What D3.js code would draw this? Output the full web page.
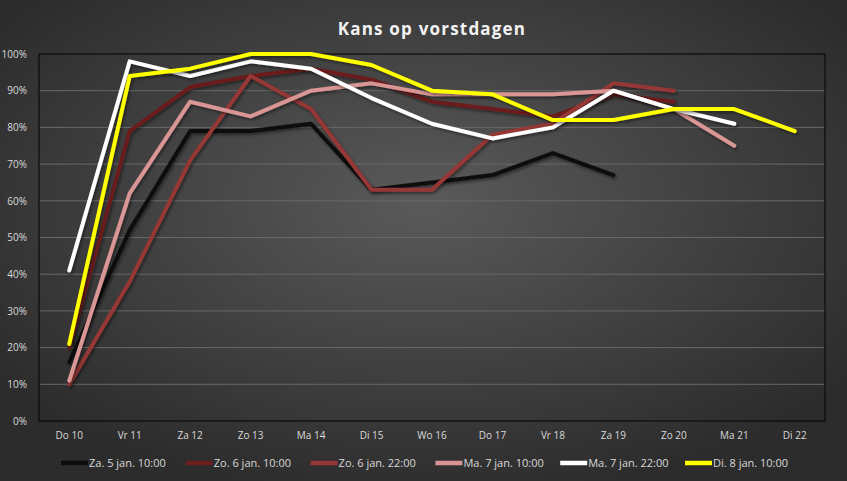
<!DOCTYPE html>
<html>
<head>
<meta charset="utf-8">
<script src="https://cdn.jsdelivr.net/npm/d3@7"></script>
<style>
  html, body { margin: 0; padding: 0; background: #333; }
  svg { display: block; }
  .tick text { fill: #d9d9d9; font-family: "Open Sans", sans-serif; font-size: 10px; }
</style>
</head>
<body>
<svg width="847" height="481"></svg>
<script>
const days = ['Do 10', 'Vr 11', 'Za 12', 'Zo 13', 'Ma 14', 'Di 15', 'Wo 16',
              'Do 17', 'Vr 18', 'Za 19', 'Zo 20', 'Ma 21', 'Di 22'];

const runs = ['Za. 5 jan. 10:00', 'Zo. 6 jan. 10:00', 'Zo. 6 jan. 22:00',
              'Ma. 7 jan. 10:00', 'Ma. 7 jan. 22:00', 'Di. 8 jan. 10:00'];

// kans in %, null = geen verwachting
const za5 = [16, 52, 79, 79, 81, 63, 65, 67, 73, 67, null, null, null];
const zo6a = [20, 79, 91, 94, 96, 93, 87, 85, 83, 89, 87, null, null];
const zo6b = [10, 38, 71, 94, 85, 63, 63, 78, 81, 92, 90, null, null];
const ma7a = [11, 62, 87, 83, 90, 92, 89, 89, 89, 90, 85, 75, null];
const ma7b = [41, 98, 94, 98, 96, 88, 81, 77, 80, 90, 85, 81, null];
const di8 = [21, 94, 96, 100, 100, 97, 90, 89, 82, 82, 85, 85, 79];

const yTicks = [0, 10, 20, 30, 40, 50, 60, 70, 80, 90, 100];

const colors = ['#0d0d0d', '#6a1e1e', '#953735', '#d99694', '#ffffff', '#ffff00'];

const svg = d3.select('svg');
const width = +svg.attr('width');
const height = +svg.attr('height');
const margin = { top: 54, right: 22, bottom: 60, left: 39 };
const innerWidth = width - margin.left - margin.right;
const innerHeight = height - margin.top - margin.bottom;

const defs = svg.append('defs');
const grad = defs.append('radialGradient')
    .attr('id', 'bg')
    .attr('cx', '50%').attr('cy', '42%').attr('r', '62%');
grad.append('stop').attr('offset', '0%').attr('stop-color', '#5a5a5a');
grad.append('stop').attr('offset', '100%').attr('stop-color', '#2c2c2c');

const shadow = defs.append('filter').attr('id', 'shadow')
    .attr('x', '-5%').attr('y', '-5%').attr('width', '110%').attr('height', '115%');
shadow.append('feDropShadow')
    .attr('dx', 1.5).attr('dy', 2).attr('stdDeviation', 1.5)
    .attr('flood-color', '#000').attr('flood-opacity', 0.45);

svg.append('rect')
    .attr('width', width).attr('height', height)
    .attr('fill', 'url(#bg)');

svg.append('text')
    .attr('x', 432).attr('y', 35)
    .attr('text-anchor', 'middle')
    .attr('fill', '#f2f2f2')
    .style('font-family', '"Open Sans", sans-serif')
    .style('font-weight', 'bold')
    .style('font-size', '17px')
    .style('letter-spacing', '1.2px')
    .text('Kans op vorstdagen');

const g = svg.append('g')
    .attr('transform', `translate(${margin.left},${margin.top})`);

const x = d3.scaleBand().domain(days).range([0, innerWidth]);
const y = d3.scaleLinear().domain([0, 100]).range([innerHeight, 0]);

// gridlines
g.append('g')
    .selectAll('line')
    .data(yTicks.slice(1, -1))
    .join('line')
    .attr('x1', 0).attr('x2', innerWidth)
    .attr('y1', d => y(d)).attr('y2', d => y(d))
    .attr('stroke', '#686868')
    .attr('stroke-width', 1);

const yAxis = g.append('g')
    .call(d3.axisLeft(y).tickValues(yTicks).tickFormat(d => d + '%').tickSize(0).tickPadding(12));
yAxis.select('.domain').remove();

const xAxis = g.append('g')
    .attr('transform', `translate(0,${innerHeight})`)
    .call(d3.axisBottom(x).tickSize(0).tickPadding(11));
xAxis.select('.domain').remove();

g.append('rect')
    .attr('width', innerWidth).attr('height', innerHeight)
    .attr('fill', 'none')
    .attr('stroke', '#0a0a0a')
    .attr('stroke-width', 1.2);

const series = [za5, zo6a, zo6b, ma7a, ma7b, di8];

const line = d3.line()
    .defined(d => d != null)
    .x((d, i) => x(days[i]) + x.bandwidth() / 2)
    .y(d => y(d));

g.append('g')
    .selectAll('path')
    .data(series)
    .join('path')
    .attr('d', line)
    .attr('fill', 'none')
    .attr('stroke', (d, i) => colors[i])
    .attr('stroke-width', 4)
    .attr('stroke-linejoin', 'round')
    .attr('stroke-linecap', 'round')
    .attr('filter', 'url(#shadow)');

// legend
const legend = svg.append('g')
    .attr('transform', `translate(61,463)`);
const item = legend.selectAll('g')
    .data(runs)
    .join('g')
    .attr('transform', (d, i) => `translate(${i * 124.8},0)`);
item.append('line')
    .attr('x1', 0).attr('x2', 27)
    .attr('stroke', (d, i) => colors[i])
    .attr('stroke-width', 4.5);
item.append('text')
    .attr('x', 28).attr('y', 4)
    .attr('fill', '#d9d9d9')
    .style('font-family', '"Liberation Sans Narrow", "Open Sans", sans-serif')
    .style('font-size', '11px')
    .text(d => d);
</script>
</body>
</html>
